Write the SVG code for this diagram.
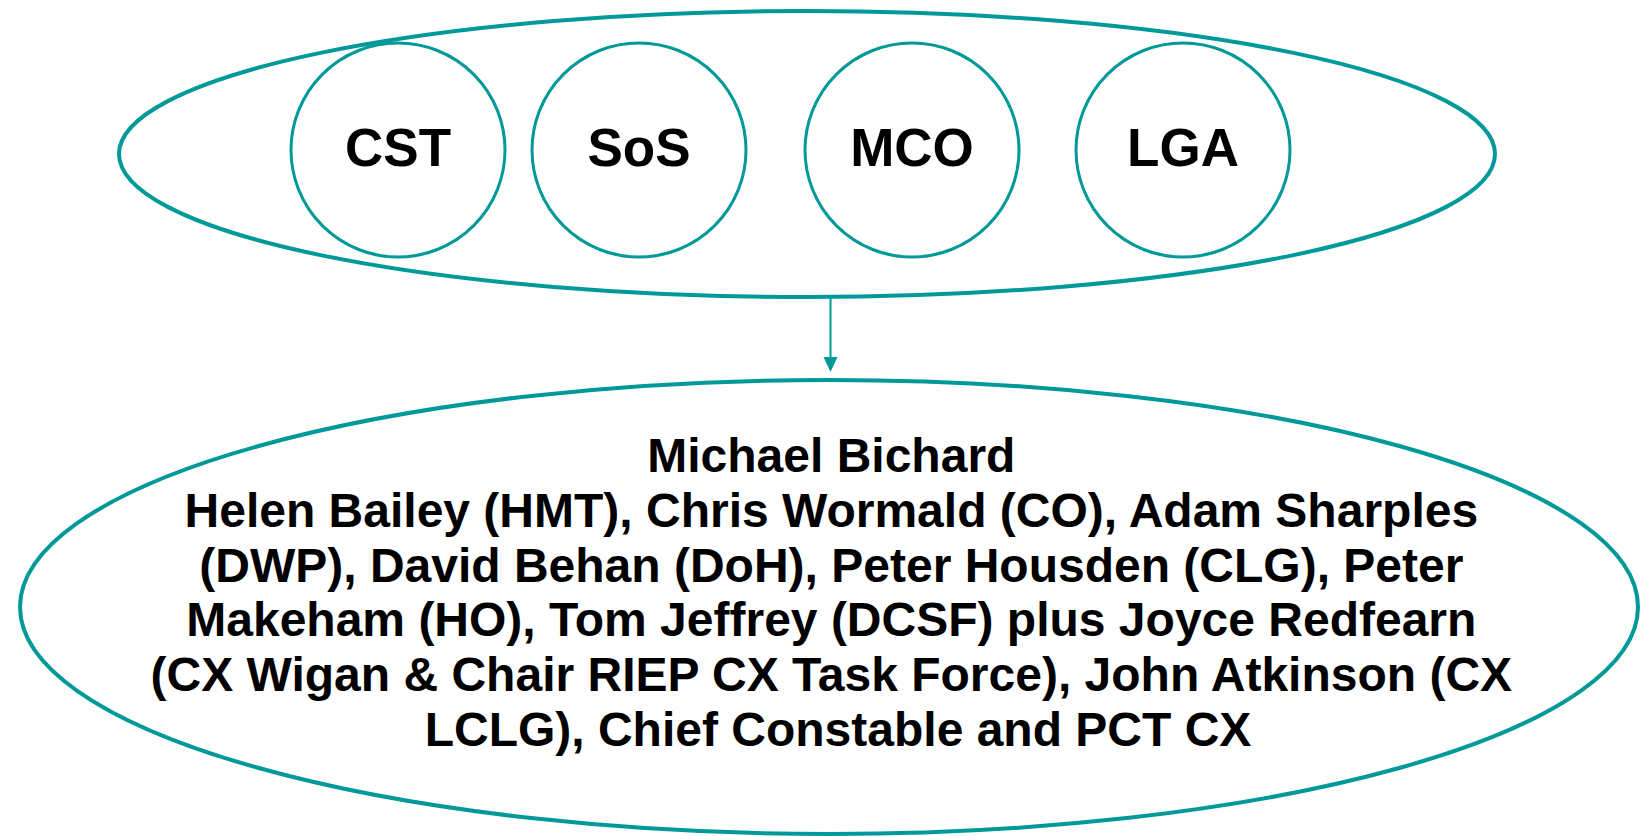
<svg xmlns="http://www.w3.org/2000/svg" width="1641" height="836" viewBox="0 0 1641 836">
<style>
.outer{fill:none;stroke:#009999;stroke-width:4}
.circ{fill:none;stroke:#009999;stroke-width:3}
.lbl{font-family:"Liberation Sans",Arial,sans-serif;font-weight:bold;font-size:53px;fill:#000;text-anchor:middle}
.body{font-family:"Liberation Sans",Arial,sans-serif;font-weight:bold;font-size:48px;fill:#000;text-anchor:middle}
.conn{stroke:#009999;stroke-width:2;fill:none}
</style>
<rect width="1641" height="836" fill="#fff"/>
<g id="group-top">
<ellipse class="outer" cx="807" cy="154" rx="688" ry="143"/>
</g>
<g id="node-cst">
<circle class="circ" cx="398" cy="150" r="107"/>
<text class="lbl" x="398" y="166">CST</text>
</g>
<g id="node-sos">
<circle class="circ" cx="639" cy="150" r="107"/>
<text class="lbl" x="639" y="166">SoS</text>
</g>
<g id="node-mco">
<circle class="circ" cx="912" cy="150" r="107"/>
<text class="lbl" x="912" y="166">MCO</text>
</g>
<g id="node-lga">
<circle class="circ" cx="1183" cy="150" r="107"/>
<text class="lbl" x="1183" y="166">LGA</text>
</g>
<g id="node-board">
<ellipse class="outer" cx="829" cy="607" rx="809" ry="227" stroke-width="4.5"/>
<text class="body" x="838">
<tspan x="838" y="472">Michael Bichard</tspan>
<tspan x="838" y="527">Helen Bailey (HMT), Chris Wormald (CO), Adam Sharples</tspan>
<tspan x="838" y="582">(DWP), David Behan (DoH), Peter Housden (CLG), Peter</tspan>
<tspan x="838" y="636">Makeham (HO), Tom Jeffrey (DCSF) plus Joyce Redfearn</tspan>
<tspan x="838" y="691">(CX Wigan &amp; Chair RIEP CX Task Force), John Atkinson (CX</tspan>
<tspan x="838" y="746">LCLG), Chief Constable and PCT CX</tspan>
</text>
</g>
<g id="connectors">
<line class="conn" x1="830.5" y1="298" x2="830.5" y2="358"/>
<path d="M823.5,357 L837.5,357 L830.5,372 Z" fill="#009999"/>
</g>
</svg>
